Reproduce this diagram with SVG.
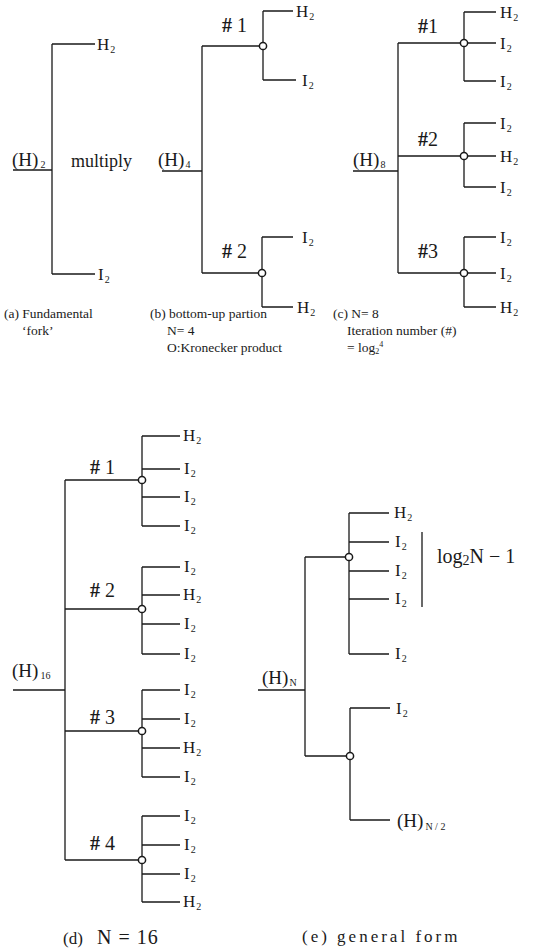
<svg xmlns="http://www.w3.org/2000/svg" width="540" height="950" viewBox="0 0 540 950">
<style>
.w{fill:none;stroke:#1a1a1a;stroke-width:1.3}
.j{fill:#fff;stroke:#1a1a1a;stroke-width:1.5}
text{font-family:"Liberation Serif","DejaVu Serif",serif;fill:#1a1a1a}
.l{font-size:17px}
.s{font-size:10px}
.h{font-size:20px}
.h tspan.sh{font-weight:bold}
.c{font-size:13.5px}
.c2{font-size:17px;letter-spacing:3px}
.r{font-size:19px}
</style>
<rect width="540" height="950" fill="#fff"/>
<g id="connectors" class="w">
<path d="M13,170H52M52,44V274M52,44H95M52,274H95"/>
<path d="M162,171H202M202,46V273M202,46H259.5M263,11V80M263,11H293M263,80H296M202,273H258.5M262,237V307M262,237H293M262,307H293"/>
<path d="M353,171H398M398,43V273M398,43H460.5M464,12V81M464,12H496M464,43H496M464,81H496"/>
<path d="M398,156H460.5M464,123V187M464,123H496M464,156H496M464,187H496"/>
<path d="M398,273H460.5M464,237V307M464,237H496M464,273H496M464,307H496"/>
<path d="M13,690H65M65,480V860"/>
<path d="M65,480H138.5M142,436V526M142,436H180M142,469H180M142,497H180M142,526H180"/>
<path d="M65,609H138.5M142,567V654M142,567H180M142,595H180M142,624H180M142,654H180"/>
<path d="M65,731H138.5M142,690V777M142,690H180M142,719H180M142,748H180M142,777H180"/>
<path d="M65,860H138.5M142,816V902M142,816H180M142,845H180M142,874H180M142,902H180"/>
<path d="M258,690H305M305,557V756M305,557H345.5M349,513V654M349,513H389M349,542H389M349,571H389M349,599H389M349,654H389M422,532V607"/>
<path d="M305,756H346.5M350,708V820M350,708H390M350,820H390"/>
</g>
<g id="junctions">
<circle class="j" cx="263" cy="46" r="3.6"/>
<circle class="j" cx="262" cy="273" r="3.6"/>
<circle class="j" cx="464" cy="43" r="3.6"/>
<circle class="j" cx="464" cy="156" r="3.6"/>
<circle class="j" cx="464" cy="273" r="3.6"/>
<circle class="j" cx="142" cy="480" r="3.6"/>
<circle class="j" cx="142" cy="609" r="3.6"/>
<circle class="j" cx="142" cy="731" r="3.6"/>
<circle class="j" cx="142" cy="860" r="3.6"/>
<circle class="j" cx="349" cy="557" r="3.6"/>
<circle class="j" cx="350" cy="756" r="3.6"/>
</g>
<g id="panel-a">
<text class="r" x="12" y="166">(H)<tspan class="s" dx="2" dy="2">2</tspan></text>
<text x="71" y="167" font-size="18">multiply</text>
<text class="l" x="97" y="50">H<tspan class="s" dx="1" dy="3">2</tspan></text>
<text class="l" x="98" y="280">I<tspan class="s" dx="1" dy="3">2</tspan></text>
</g>
<g id="panel-b">
<text class="r" x="158" y="166">(H)<tspan class="s" dx="1" dy="2">4</tspan></text>
<text class="h" x="222" y="32"><tspan class="sh">#</tspan> 1</text>
<text class="h" x="222" y="258"><tspan class="sh">#</tspan> 2</text>
<text class="l" x="296" y="17">H<tspan class="s" dx="1" dy="3">2</tspan></text>
<text class="l" x="302" y="86">I<tspan class="s" dx="1" dy="3">2</tspan></text>
<text class="l" x="302" y="243">I<tspan class="s" dx="1" dy="3">2</tspan></text>
<text class="l" x="297" y="313">H<tspan class="s" dx="1" dy="3">2</tspan></text>
</g>
<g id="panel-c">
<text class="r" x="353" y="166">(H)<tspan class="s" dx="1" dy="2">8</tspan></text>
<text class="h" x="418" y="33"><tspan class="sh">#</tspan>1</text>
<text class="h" x="418" y="146"><tspan class="sh">#</tspan>2</text>
<text class="h" x="418" y="258"><tspan class="sh">#</tspan>3</text>
<text class="l" x="500" y="18">H<tspan class="s" dx="1" dy="3">2</tspan></text>
<text class="l" x="500" y="49">I<tspan class="s" dx="1" dy="3">2</tspan></text>
<text class="l" x="500" y="87">I<tspan class="s" dx="1" dy="3">2</tspan></text>
<text class="l" x="500" y="129">I<tspan class="s" dx="1" dy="3">2</tspan></text>
<text class="l" x="500" y="162">H<tspan class="s" dx="1" dy="3">2</tspan></text>
<text class="l" x="500" y="193">I<tspan class="s" dx="1" dy="3">2</tspan></text>
<text class="l" x="500" y="243">I<tspan class="s" dx="1" dy="3">2</tspan></text>
<text class="l" x="500" y="279">I<tspan class="s" dx="1" dy="3">2</tspan></text>
<text class="l" x="500" y="313">H<tspan class="s" dx="1" dy="3">2</tspan></text>
</g>
<g id="captions-top">
<text class="c" x="4" y="318">(a) Fundamental</text>
<text class="c" x="22" y="335">‘fork’</text>
<text class="c" x="150" y="318">(b) bottom-up partion</text>
<text class="c" x="167" y="335">N= 4</text>
<text class="c" x="167" y="352">O:Kronecker product</text>
<text class="c" x="333" y="318">(c) N= 8</text>
<text class="c" x="347" y="335">Iteration number (#)</text>
<text class="c" x="347" y="352">= log<tspan font-size="8" dy="2">2</tspan><tspan font-size="8" dy="-7">4</tspan></text>
</g>
<g id="panel-d">
<text class="r" x="12" y="677">(H)<tspan class="s" dx="2" dy="2">16</tspan></text>
<text class="h" x="90" y="474"><tspan class="sh">#</tspan> 1</text>
<text class="h" x="90" y="597"><tspan class="sh">#</tspan> 2</text>
<text class="h" x="90" y="724"><tspan class="sh">#</tspan> 3</text>
<text class="h" x="90" y="850"><tspan class="sh">#</tspan> 4</text>
<text class="l" x="183" y="441">H<tspan class="s" dx="1" dy="3">2</tspan></text>
<text class="l" x="184" y="474">I<tspan class="s" dx="1" dy="3">2</tspan></text>
<text class="l" x="184" y="502">I<tspan class="s" dx="1" dy="3">2</tspan></text>
<text class="l" x="184" y="531">I<tspan class="s" dx="1" dy="3">2</tspan></text>
<text class="l" x="184" y="572">I<tspan class="s" dx="1" dy="3">2</tspan></text>
<text class="l" x="183" y="600">H<tspan class="s" dx="1" dy="3">2</tspan></text>
<text class="l" x="184" y="629">I<tspan class="s" dx="1" dy="3">2</tspan></text>
<text class="l" x="184" y="659">I<tspan class="s" dx="1" dy="3">2</tspan></text>
<text class="l" x="184" y="695">I<tspan class="s" dx="1" dy="3">2</tspan></text>
<text class="l" x="184" y="724">I<tspan class="s" dx="1" dy="3">2</tspan></text>
<text class="l" x="183" y="753">H<tspan class="s" dx="1" dy="3">2</tspan></text>
<text class="l" x="184" y="782">I<tspan class="s" dx="1" dy="3">2</tspan></text>
<text class="l" x="184" y="821">I<tspan class="s" dx="1" dy="3">2</tspan></text>
<text class="l" x="184" y="850">I<tspan class="s" dx="1" dy="3">2</tspan></text>
<text class="l" x="184" y="879">I<tspan class="s" dx="1" dy="3">2</tspan></text>
<text class="l" x="183" y="907">H<tspan class="s" dx="1" dy="3">2</tspan></text>
<text x="63" y="944" font-size="17">(d)<tspan x="97" font-size="20" letter-spacing="1">N = 16</tspan></text>
</g>
<g id="panel-e">
<text class="r" x="262" y="684">(H)<tspan class="s" dx="1" dy="2">N</tspan></text>
<text class="l" x="394" y="518">H<tspan class="s" dx="1" dy="3">2</tspan></text>
<text class="l" x="395" y="547">I<tspan class="s" dx="1" dy="3">2</tspan></text>
<text class="l" x="395" y="576">I<tspan class="s" dx="1" dy="3">2</tspan></text>
<text class="l" x="395" y="604">I<tspan class="s" dx="1" dy="3">2</tspan></text>
<text class="l" x="395" y="659">I<tspan class="s" dx="1" dy="3">2</tspan></text>
<text x="437" y="563" font-size="20">log<tspan font-size="14" dy="2">2</tspan><tspan dy="-2">N − 1</tspan></text>
<text class="l" x="396" y="714">I<tspan class="s" dx="1" dy="3">2</tspan></text>
<text class="r" x="397" y="827">(H)<tspan class="s" dx="2" dy="3">N / 2</tspan></text>
<text class="c2" x="302" y="942">(e) general form</text>
</g>
</svg>
